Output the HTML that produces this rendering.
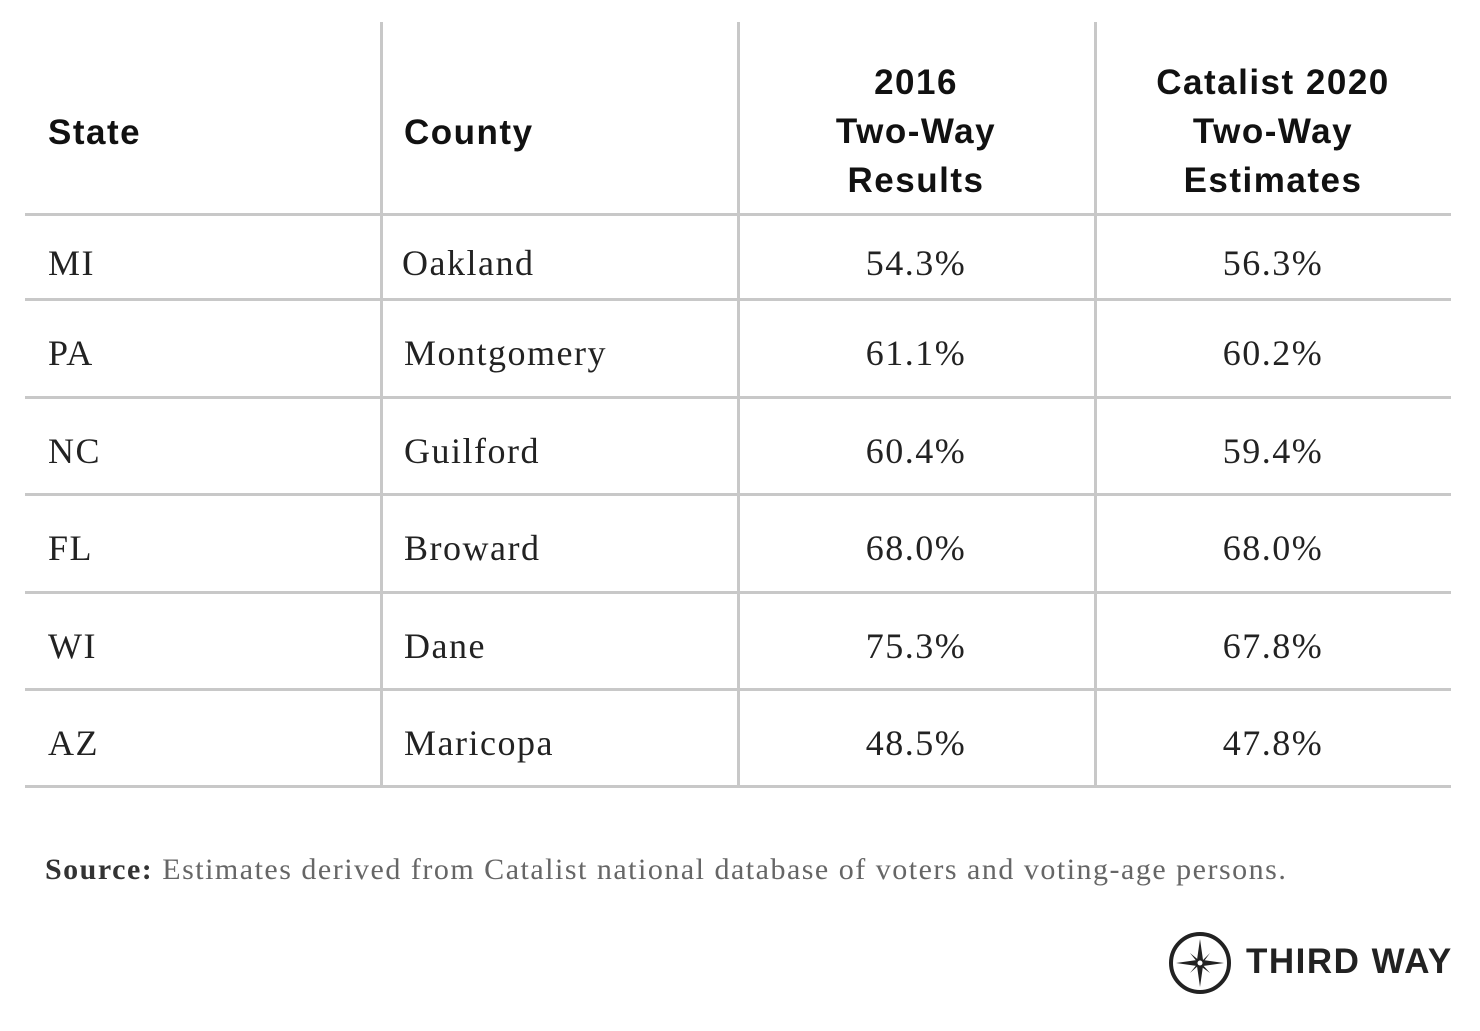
<!DOCTYPE html>
<html><head><style>
body{margin:0;width:1480px;height:1031px;background:#fff;position:relative;overflow:hidden;color:#222}
.h{position:absolute;left:25px;width:1426px;height:3px;background:#c8c8c8}
.v{position:absolute;top:22px;height:765px;width:3px;background:#c8c8c8}
.t{position:absolute;font-family:"Liberation Serif",serif;font-size:36px;line-height:40px;color:#222;letter-spacing:1.5px}
.c{text-align:center;width:340px}
.hd{position:absolute;font-family:"Liberation Sans",sans-serif;font-weight:bold;font-size:35px;line-height:49px;color:#111;letter-spacing:1.5px}
</style></head><body>
<div class="v" style="left:380px"></div>
<div class="v" style="left:737px"></div>
<div class="v" style="left:1094px"></div>
<div class="h" style="top:213px"></div>
<div class="h" style="top:298px"></div>
<div class="h" style="top:396px"></div>
<div class="h" style="top:493px"></div>
<div class="h" style="top:591px"></div>
<div class="h" style="top:688px"></div>
<div class="h" style="top:785px"></div>
<div class="hd" style="left:48px;top:108px">State</div>
<div class="hd" style="left:404px;top:108px">County</div>
<div class="hd" style="left:746px;top:58px;width:340px;text-align:center">2016<br>Two-Way<br>Results</div>
<div class="hd" style="left:1103px;top:58px;width:340px;text-align:center">Catalist 2020<br>Two-Way<br>Estimates</div>

<div class="t" style="left:48px;top:243px">MI</div><div class="t" style="left:402px;top:243px">Oakland</div><div class="t c" style="left:746px;top:243px">54.3%</div><div class="t c" style="left:1103px;top:243px">56.3%</div>
<div class="t" style="left:48px;top:333px">PA</div><div class="t" style="left:404px;top:333px">Montgomery</div><div class="t c" style="left:746px;top:333px">61.1%</div><div class="t c" style="left:1103px;top:333px">60.2%</div>
<div class="t" style="left:48px;top:431px">NC</div><div class="t" style="left:404px;top:431px">Guilford</div><div class="t c" style="left:746px;top:431px">60.4%</div><div class="t c" style="left:1103px;top:431px">59.4%</div>
<div class="t" style="left:48px;top:528px">FL</div><div class="t" style="left:404px;top:528px">Broward</div><div class="t c" style="left:746px;top:528px">68.0%</div><div class="t c" style="left:1103px;top:528px">68.0%</div>
<div class="t" style="left:48px;top:626px">WI</div><div class="t" style="left:404px;top:626px">Dane</div><div class="t c" style="left:746px;top:626px">75.3%</div><div class="t c" style="left:1103px;top:626px">67.8%</div>
<div class="t" style="left:48px;top:723px">AZ</div><div class="t" style="left:404px;top:723px">Maricopa</div><div class="t c" style="left:746px;top:723px">48.5%</div><div class="t c" style="left:1103px;top:723px">47.8%</div>

<div style="position:absolute;left:45px;top:853px;font-family:'Liberation Serif',serif;font-size:30px;color:#666;letter-spacing:1.5px;white-space:nowrap"><b style="color:#333">Source:</b> Estimates derived from Catalist national database of voters and voting-age persons.</div>

<svg style="position:absolute;left:1166px;top:930px" width="68" height="68" viewBox="0 0 68 68">
<circle cx="34" cy="33" r="29" fill="none" stroke="#222" stroke-width="4"/>
<polygon points="34,9 37,30 58,33 37,36 34,57 31,36 10,33 31,30" fill="#222"/>
<polygon points="24,23 35,32 44,23 36,34 44,43 33,35 24,43 32,33" fill="#222"/>
<circle cx="34" cy="33" r="2.5" fill="#fff"/>
</svg>
<div style="position:absolute;left:1246px;top:942px;font-family:'Liberation Sans',sans-serif;font-weight:bold;font-size:35px;color:#222;letter-spacing:1.5px">THIRD WAY</div>
</body></html>
